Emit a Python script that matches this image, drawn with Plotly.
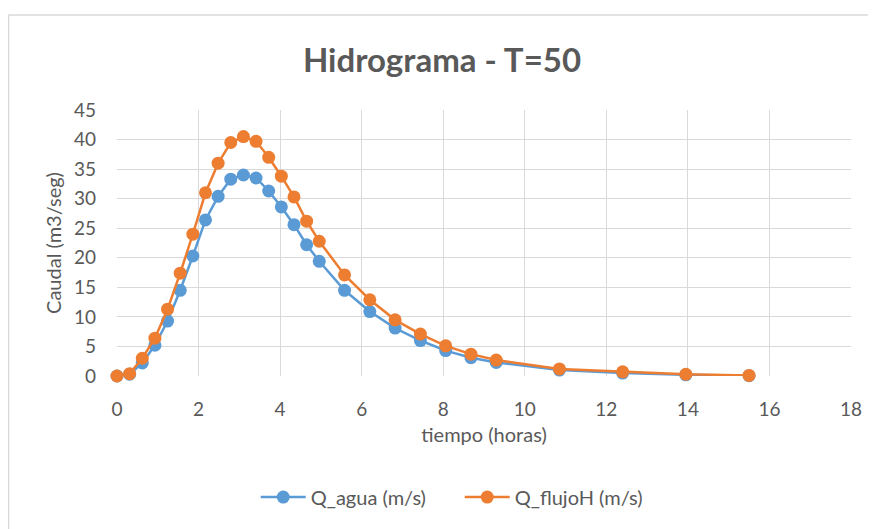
import plotly.graph_objects as go

# tiempo (horas)
tiempo = [0, 0.31, 0.62, 0.93, 1.24, 1.55, 1.86, 2.17, 2.48, 2.79, 3.10, 3.41, 3.72,
          4.03, 4.34, 4.65, 4.96, 5.58, 6.20, 6.82, 7.44, 8.06, 8.68, 9.30,
          10.85, 12.40, 13.95, 15.50]

q_agua = [0, 0.3, 2.2, 5.2, 9.3, 14.5, 20.3, 26.4, 30.4, 33.3, 34.0, 33.5, 31.3,
          28.6, 25.6, 22.2, 19.4, 14.5, 10.9, 8.1, 6.0, 4.3, 3.1, 2.3,
          1.0, 0.5, 0.2, 0.05]

q_flujo = [0, 0.4, 3.0, 6.4, 11.3, 17.4, 24.0, 31.0, 36.0, 39.5, 40.5, 39.7, 37.0,
           33.8, 30.3, 26.2, 22.8, 17.1, 12.9, 9.5, 7.1, 5.1, 3.7, 2.7,
           1.2, 0.7, 0.3, 0.1]

x_ticks = list(range(0, 19, 2))
y_ticks = list(range(0, 46, 5))

gris = "#595959"
fuente = "Lato"

fig = go.Figure()
fig.add_trace(go.Scatter(x=tiempo, y=q_agua, mode="lines+markers", name="Q_agua (m/s)",
                         line=dict(color="#5B9BD5", width=2.5),
                         marker=dict(color="#5B9BD5", size=13), cliponaxis=False))
fig.add_trace(go.Scatter(x=tiempo, y=q_flujo, mode="lines+markers", name="Q_flujoH (m/s)",
                         line=dict(color="#ED7D31", width=2.5),
                         marker=dict(color="#ED7D31", size=13), cliponaxis=False))

# borde del área del gráfico (la página añade 8px de margen)
fig.add_shape(type="rect", xref="paper", yref="paper",
              x0=-0.1478, x1=1.04, y0=-0.60, y1=1.357,
              line=dict(color="#d9d9d9", width=1.5), layer="below")

fig.update_layout(
    width=868, height=521,
    margin=dict(l=109, r=25, t=102, b=153),
    paper_bgcolor="white", plot_bgcolor="white",
    font=dict(family=fuente, color=gris, size=19),
    title=dict(text="Hidrograma - T=50", x=0.5, xanchor="center", y=0.9, yanchor="middle",
               font=dict(family=fuente, size=33, color=gris, weight="bold")),
    legend=dict(orientation="h", x=0.189, xanchor="left", y=-0.455, yanchor="middle",
                font=dict(size=20, color=gris), itemwidth=45,
                entrywidth=144, entrywidthmode="pixels"),
    showlegend=True,
)
fig.update_xaxes(range=[0, 18], tickvals=x_ticks, showgrid=True, gridcolor="#d9d9d9",
                 gridwidth=1.3, zeroline=False, showline=False, ticks="",
                 tickfont=dict(size=19, color=gris), ticklabelstandoff=20,
                 title=dict(text="tiempo (horas)", font=dict(size=20, color=gris), standoff=8))
fig.update_yaxes(range=[0, 45], tickvals=y_ticks, showgrid=True, gridcolor="#d9d9d9",
                 gridwidth=1.3, zeroline=False, showline=False, ticks="",
                 tickfont=dict(size=19, color=gris), ticklabelstandoff=20,
                 title=dict(text="Caudal (m3/seg)", font=dict(size=20, color=gris), standoff=6))

fig.write_html("out.html")
